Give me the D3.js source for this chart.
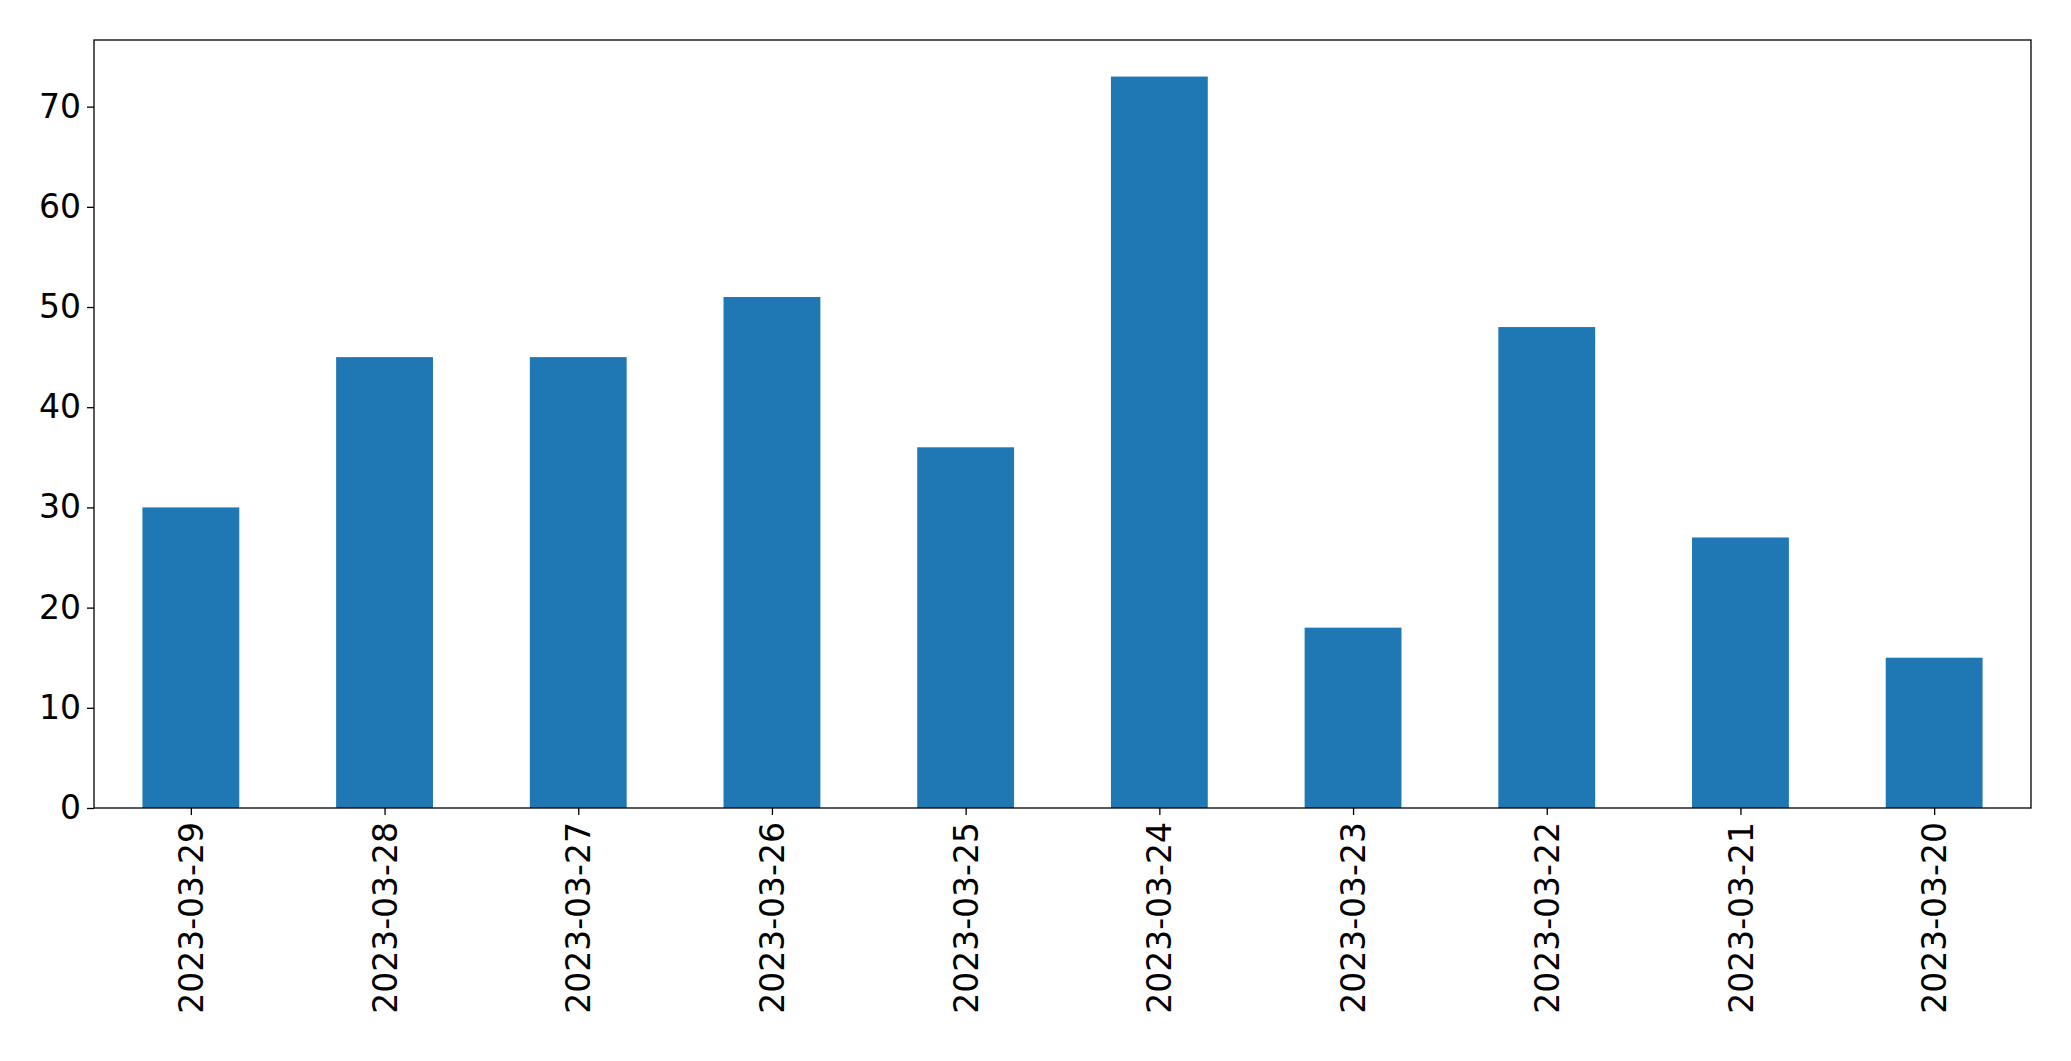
<!DOCTYPE html>
<meta charset="utf-8">
<style>
body { margin: 0; background: #fff; }
text { font-family: "DejaVu Sans", sans-serif; }
</style>
<body>
<script src="https://d3js.org/d3.v7.min.js"></script>
<script>

var dates = ["2023-03-29", "2023-03-28", "2023-03-27", "2023-03-26", "2023-03-25",
             "2023-03-24", "2023-03-23", "2023-03-22", "2023-03-21", "2023-03-20"];
var counts = [30, 45, 45, 51, 36, 73, 18, 48, 27, 15];
var yTicks = [0, 10, 20, 30, 40, 50, 60, 70];

var width = 2071, height = 1061,
    margin = {left: 94, right: 40, top: 40, bottom: 253};

var svg = d3.select("body").append("svg")
    .attr("width", width)
    .attr("height", height);

var x = d3.scaleLinear()
    .domain([-0.5, dates.length - 0.5])
    .range([margin.left, width - margin.right]);

var y = d3.scaleLinear()
    .domain([0, d3.max(counts) * 1.05])
    .range([height - margin.bottom, margin.top]);

var bw = x(0.25) - x(-0.25);

svg.selectAll("rect.bar")
    .data(counts)
  .enter().append("rect")
    .attr("class", "bar")
    .attr("x", function(d, i) { return x(i) - bw / 2; })
    .attr("y", function(d) { return y(d); })
    .attr("width", bw)
    .attr("height", function(d) { return y(0) - y(d); })
    .attr("fill", "#1f77b4");

var yAxis = svg.append("g")
    .attr("transform", "translate(" + margin.left + ",0)")
    .call(d3.axisLeft(y).tickValues(yTicks).tickSize(7).tickPadding(6));

var xAxis = svg.append("g")
    .attr("transform", "translate(0," + (height - margin.bottom) + ")")
    .call(d3.axisBottom(x).tickValues(d3.range(dates.length))
      .tickFormat(function(i) { return dates[i]; }).tickSize(7).tickPadding(6));

xAxis.selectAll("text")
    .attr("transform", "rotate(-90)")
    .attr("text-anchor", "end")
    .attr("x", -14)
    .attr("y", 0)
    .attr("dy", "0.35em");

svg.selectAll(".tick text").attr("font-size", 33).attr("fill", "#000");
svg.selectAll(".tick line").attr("stroke", "#000").attr("stroke-width", 1.3);
svg.selectAll(".domain").remove();

svg.append("rect")
    .attr("x", margin.left)
    .attr("y", margin.top)
    .attr("width", width - margin.left - margin.right)
    .attr("height", height - margin.top - margin.bottom)
    .attr("fill", "none")
    .attr("stroke", "#000")
    .attr("stroke-width", 1.3);

</script>
